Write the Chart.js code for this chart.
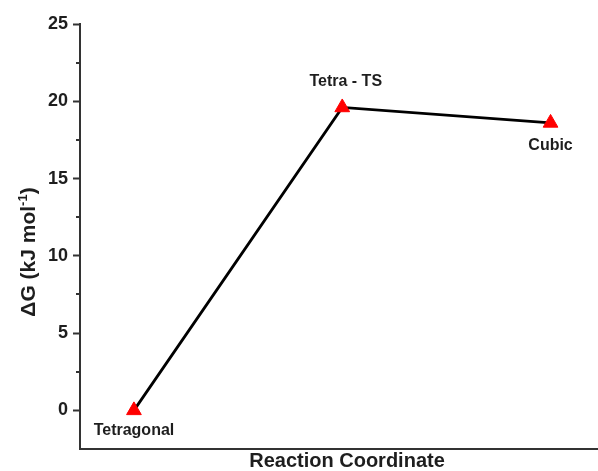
<!DOCTYPE html>
<html><head><meta charset="utf-8">
<script src="https://cdn.jsdelivr.net/npm/chart.js@4"></script>
<style>html,body{margin:0;padding:0;background:#fff}#wrap{width:598px;height:471px;position:relative}</style>
</head><body><div id="wrap"><canvas id="c" width="598" height="471"></canvas></div>
<script>
// ---- data ----
const STATES = ['Tetragonal', 'Tetra - TS', 'Cubic'];
const REACTION_COORD = [1, 2, 3];
const DELTA_G = [0, 19.6, 18.6];
const Y_TICKS = [0, 5, 10, 15, 20, 25];
const Y_MINOR_TICKS = [2.5, 7.5, 12.5, 17.5, 22.5];
const X_TITLE = 'Reaction Coordinate';
const Y_TITLE = ['\u0394G (kJ mol', '-1', ')'];

// ---- styling / placement (not data) ----
const FONT = '"Liberation Sans", Arial, Helvetica, sans-serif';
const TEXT_COLOR = '#1e1e1e';
const AXIS_COLOR = '#333';
const LABEL_OFFSETS = [{dx: 0, dy: 25}, {dx: 3.5, dy: -21}, {dx: 0, dy: 27}];

const annotate = {
  id: 'annotate',
  afterDraw(chart) {
    const {ctx, scales: {x, y}, chartArea} = chart;
    ctx.save();
    // minor ticks on y axis
    ctx.strokeStyle = AXIS_COLOR; ctx.lineWidth = 2;
    Y_MINOR_TICKS.forEach(v => {
      const py = Math.round(y.getPixelForValue(v));
      ctx.beginPath(); ctx.moveTo(chartArea.left - 4, py); ctx.lineTo(chartArea.left, py); ctx.stroke();
    });
    // point labels
    ctx.fillStyle = TEXT_COLOR;
    ctx.font = 'bold 16px ' + FONT;
    ctx.textAlign = 'center'; ctx.textBaseline = 'alphabetic';
    STATES.forEach((s, i) => {
      const px = x.getPixelForValue(REACTION_COORD[i]);
      const py = y.getPixelForValue(DELTA_G[i]);
      ctx.fillText(s, px + LABEL_OFFSETS[i].dx, py + LABEL_OFFSETS[i].dy);
    });
    // x title
    ctx.font = 'bold 20px ' + FONT;
    ctx.fillText(X_TITLE, 347, 467);
    // y title (rotated, with superscript)
    ctx.translate(0, 252);
    ctx.rotate(-Math.PI / 2);
    ctx.textAlign = 'left';
    const big = 'bold 21px ' + FONT, small = 'bold 13px ' + FONT;
    ctx.font = big; const w1 = ctx.measureText(Y_TITLE[0]).width;
    ctx.font = small; const w2 = ctx.measureText(Y_TITLE[1]).width;
    ctx.font = big; const w3 = ctx.measureText(Y_TITLE[2]).width;
    let sx = -(w1 + w2 + w3) / 2;
    const base = 35;
    ctx.font = big; ctx.fillText(Y_TITLE[0], sx, base); sx += w1;
    ctx.font = small; ctx.fillText(Y_TITLE[1], sx, base - 8); sx += w2;
    ctx.font = big; ctx.fillText(Y_TITLE[2], sx, base);
    ctx.restore();
  }
};

new Chart(document.getElementById('c'), {
  type: 'line',
  data: {
    datasets: [{
      data: REACTION_COORD.map((v, i) => ({x: v, y: DELTA_G[i]})),
      borderColor: '#000',
      borderWidth: 2.8,
      tension: 0,
      pointStyle: 'triangle',
      pointRadius: 8.5,
      pointBackgroundColor: '#ff0000',
      pointBorderColor: '#ff0000',
      pointBorderWidth: 1,
      clip: false
    }]
  },
  options: {
    responsive: false,
    animation: false,
    devicePixelRatio: 1,
    layout: {autoPadding: false, padding: {left: 0, top: 24, right: 1, bottom: 0}},
    plugins: {legend: {display: false}, tooltip: {enabled: false}},
    scales: {
      x: {
        type: 'linear',
        min: 0.741, max: 3.223,
        ticks: {display: false},
        grid: {display: false},
        border: {display: true, color: AXIS_COLOR, width: 2},
        afterFit(s) { s.height = 22; }
      },
      y: {
        type: 'linear',
        min: -2.5, max: 25,
        afterBuildTicks(s) { s.ticks = Y_TICKS.map(v => ({value: v})); },
        ticks: {
          color: TEXT_COLOR,
          font: {family: FONT, size: 18, weight: 'bold'},
          padding: 5
        },
        grid: {display: true, drawOnChartArea: false, drawTicks: true, tickLength: 7, tickColor: AXIS_COLOR, tickWidth: 2},
        border: {display: true, color: AXIS_COLOR, width: 2},
        afterFit(s) { s.width = 80; }
      }
    }
  },
  plugins: [annotate]
});
</script>
</body></html>
